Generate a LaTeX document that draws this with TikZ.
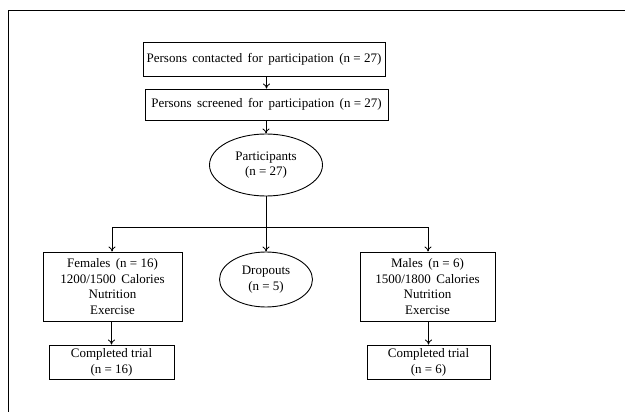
\documentclass[tikz,border=0pt]{standalone}
\usepackage{fontspec}
\setmainfont{Liberation Serif}
\usetikzlibrary{shapes.geometric,arrows.meta}
\begin{document}
\begin{tikzpicture}[x=1pt,y=-1pt,
  every node/.style={font=\fontsize{13}{15.8}\selectfont, align=center, inner sep=0pt},
  box/.style={draw, line width=0.9pt, rectangle},
  oval/.style={draw, line width=0.9pt, ellipse},
  arr/.style={draw, line width=0.8pt, -{To[length=5pt,width=7pt]}},
  ln/.style={draw, line width=0.8pt}]
\useasboundingbox (0,0) rectangle (625,412);
\draw[line width=0.9pt] (8,412) -- (8,10) -- (625,10);
\node[box, minimum width=242pt, minimum height=34pt] (c1) at (264,59) {Persons\, contacted\, for\, participation\, (n = 27)};
\node[box, minimum width=243pt, minimum height=31pt] (c2) at (266.5,104.5) {Persons\, screened\, for\, participation\, (n = 27)};
\node[oval, minimum width=113pt, minimum height=62pt] (p) at (266,165) {Participants\\(n = 27)};
\coordinate (j) at (266,227);
\coordinate (jl) at (112,227);
\coordinate (jr) at (428,227);
\node[box, minimum width=139pt, minimum height=69pt] (fem) at (112.5,286.5) {Females\, (n = 16)\\1200/1500\, Calories\\Nutrition\\Exercise};
\node[oval, minimum width=93pt, minimum height=55pt] (drop) at (266,279.5) {Dropouts\\(n = 5)};
\node[box, minimum width=135pt, minimum height=69pt] (male) at (427.5,286.5) {Males\, (n = 6)\\1500/1800\, Calories\\Nutrition\\Exercise};
\node[box, minimum width=125pt, minimum height=34pt] (ctl) at (111.5,362) {Completed trial\\(n = 16)};
\node[box, minimum width=123pt, minimum height=34pt] (ctr) at (428.5,362) {Completed trial\\(n = 6)};
\draw[arr] (c2.north |- c1.south) -- (c2.north);
\draw[arr] (p.north |- c2.south) -- (p.north);
\draw[ln] (p.south) -- (j);
\draw[ln] (jl) -- (jr);
\draw[arr] (jl) -- (jl |- fem.north);
\draw[arr] (j) -- (drop.north);
\draw[arr] (jr) -- (jr |- male.north);
\draw[arr] (ctl.north |- fem.south) -- (ctl.north);
\draw[arr] (ctr.north |- male.south) -- (ctr.north);
\end{tikzpicture}
\end{document}
